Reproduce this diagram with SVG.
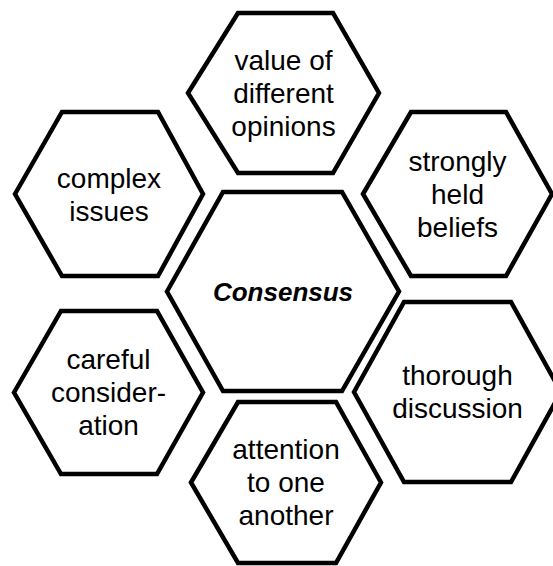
<svg xmlns="http://www.w3.org/2000/svg" width="553" height="566" viewBox="0 0 553 566">
<style>
.hex{fill:#fff;stroke:#000;stroke-width:4.5;stroke-linejoin:miter}
.t{font-family:"Liberation Sans",Arial,sans-serif;font-size:28px;fill:#000;text-anchor:middle}
.c{font-weight:bold;font-style:italic;font-size:26px}
</style>
<rect width="553" height="566" fill="#fff"/>
<g id="connectors"></g>
<g id="n-center">
<polygon class="hex" points="167,291.5 223,192 342,192 399,291.5 342,391 223,391"/>
<text class="t c" x="283" y="301">Consensus</text>
</g>
<g id="n-value">
<polygon class="hex" points="188,93 238,13 333,13 379,93 333,173 238,173"/>
<text class="t" y="70"><tspan x="283.5">value of</tspan><tspan x="283.5" dy="33">different</tspan><tspan x="283.5" dy="33">opinions</tspan></text>
</g>
<g id="n-complex">
<polygon class="hex" points="15,194 62,112 158,112 203,194 158,276 62,276"/>
<text class="t" y="188"><tspan x="109">complex</tspan><tspan x="109" dy="33">issues</tspan></text>
</g>
<g id="n-strongly">
<polygon class="hex" points="363,194 411,112 506,112 552,194 506,276 411,276"/>
<text class="t" y="171"><tspan x="457.5">strongly</tspan><tspan x="457.5" dy="33">held</tspan><tspan x="457.5" dy="33">beliefs</tspan></text>
</g>
<g id="n-careful">
<polygon class="hex" points="14,392.5 61,311 157,311 203,392.5 157,474 61,474"/>
<text class="t" y="369"><tspan x="108.5">careful</tspan><tspan x="108.5" dy="33">consider-</tspan><tspan x="108.5" dy="33">ation</tspan></text>
</g>
<g id="n-attention">
<polygon class="hex" points="191,482.5 238,402 336,402 381,482.5 336,563 238,563"/>
<text class="t" y="459"><tspan x="286">attention</tspan><tspan x="286" dy="33">to one</tspan><tspan x="286" dy="33">another</tspan></text>
</g>
<g id="n-thorough">
<polygon class="hex" points="354,392 404,302 511,302 561,392 511,482 404,482"/>
<text class="t" y="385"><tspan x="457.5">thorough</tspan><tspan x="457.5" dy="33">discussion</tspan></text>
</g>
</svg>
